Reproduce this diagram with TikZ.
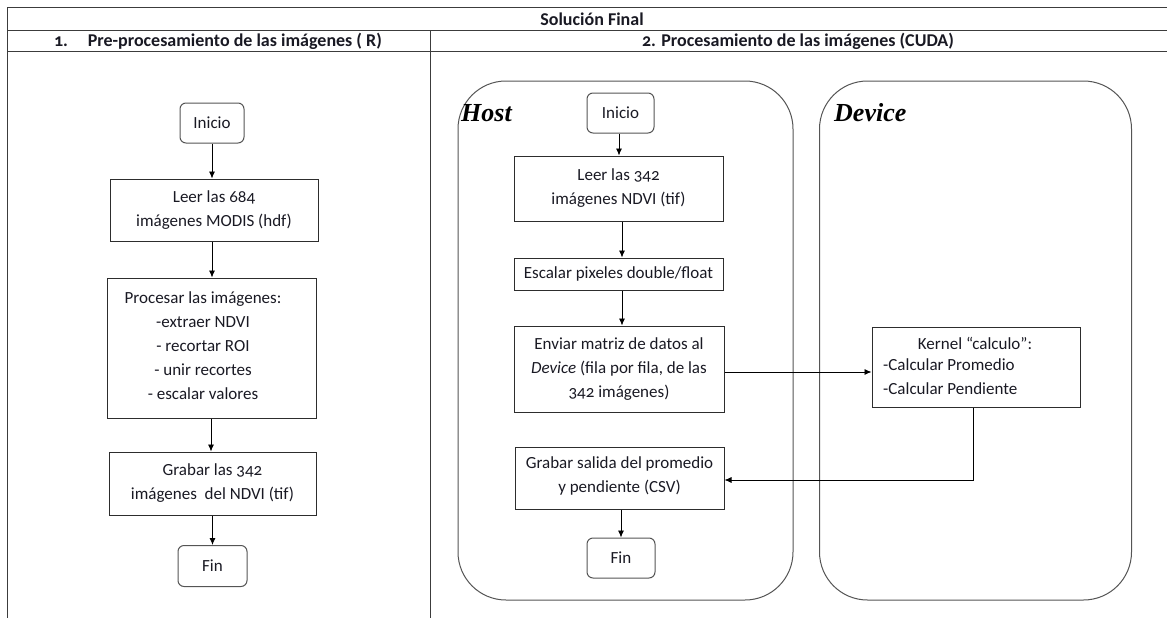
\documentclass[tikz,border=0pt]{standalone}
\usepackage{fontspec}
\setmainfont{Carlito}[Numbers=OldStyle]
\newfontfamily\lanefont{Liberation Serif}
\usetikzlibrary{arrows.meta}

\definecolor{rulec}{RGB}{60,60,60}
\definecolor{boxc}{RGB}{45,45,45}
\definecolor{lanec}{RGB}{85,85,85}
\definecolor{inkc}{RGB}{25,25,35}

\tikzset{
  tablerule/.style={draw=rulec, line width=1pt},
  procbox/.style={draw=boxc, line width=1pt, inner sep=0pt, align=center, text=inkc},
  termbox/.style={procbox, draw=lanec, rounded corners=6pt},
  lanebox/.style={draw=lanec, line width=1pt, rounded corners=48pt, inner sep=0pt},
  lanetitle/.style={font=\lanefont\bfseries\itshape\fontsize{26}{28}\selectfont, anchor=west, inner sep=0pt},
  headtext/.style={font=\bfseries\fontsize{18}{20}\selectfont, text=inkc, inner sep=0pt},
  plaintext/.style={align=center, text=inkc, inner sep=0pt},
  flow/.style={draw=black, line width=0.8pt, -{Latex[length=7pt,width=6pt]}}
}

\begin{document}
\begin{tikzpicture}[x=1pt, y=-1pt, font=\fontsize{17}{24}\selectfont]
\useasboundingbox (0,0) rectangle (1167,618);

% table frame
\draw[tablerule] (7,8) -- (1167,8);
\draw[tablerule] (7,31) -- (1167,31);
\draw[tablerule] (7,52) -- (1167,52);
\draw[tablerule] (7,8) -- (7,618);
\draw[tablerule] (430,31) -- (430,618);

\node[headtext] (title) at (592,19.5) {Solución Final};
\node[headtext] (head1) at (218,41.5) {1.\hspace{1.1em}Pre-procesamiento de las imágenes ( R)};
\node[headtext] (head2) at (798,41.5) {2. Procesamiento de las imágenes (CUDA)};

% left column: pre-processing in R
\node[termbox, minimum width=64, minimum height=40] (in1) at (212,123) {Inicio};
\node[procbox, minimum width=208, minimum height=62] (le1) at (214,210) {Leer las 684\\imágenes MODIS (hdf)};
\node[procbox, minimum width=209, minimum height=140] (pr1) at (211.5,348) {};
\node[plaintext] (pr1t) at (203,346) {Procesar las imágenes:\\-extraer NDVI\\- recortar ROI\\- unir recortes\\- escalar valores};
\node[procbox, minimum width=207, minimum height=63] (gr1) at (212.5,483.5) {Grabar las 342\\imágenes\ \ del NDVI (tif)};
\node[termbox, minimum width=69, minimum height=41] (fin1) at (212.5,566) {Fin};

\draw[flow] (in1) -- (le1.north -| in1.south);
\draw[flow] (le1.south -| in1.south) -- (pr1.north -| in1.south);
\draw[flow] (pr1.south -| 211,0) -- (gr1.north -| 211,0);
\draw[flow] (gr1.south -| fin1.north) -- (fin1);

% right column: host and device lanes
\node[lanebox, minimum width=335, minimum height=519] (host) at (625.5,340.5) {};
\node[lanebox, minimum width=312, minimum height=519] (device) at (975.5,340.5) {};
\node[lanetitle] (hostt) at (461,113) {Host};
\node[lanetitle] (devicet) at (834,113) {Device};

\node[termbox, minimum width=67, minimum height=40] (in2) at (620.5,113) {Inicio};
\node[procbox, minimum width=209, minimum height=65] (le2) at (618.5,188.5) {Leer las 342\\imágenes NDVI (tif)};
\node[procbox, minimum width=209, minimum height=32] (es2) at (618.5,274) {Escalar pixeles double/float};
\node[procbox, minimum width=210, minimum height=86] (en2) at (619,369) {Enviar matriz de datos al\\\textit{Device} (fila por fila, de las\\342 imágenes)};
\node[procbox, minimum width=209, minimum height=62] (gr2) at (619.5,478.5) {};
\node[plaintext] (gr2t) at (619.5,475.5) {Grabar salida del promedio\\y pendiente (CSV)};
\node[termbox, minimum width=68, minimum height=40] (fin2) at (621,558) {Fin};

\node[procbox, minimum width=208, minimum height=80] (ke) at (976,367) {};
\node[plaintext] (ket) at (975,343) {Kernel “calculo”:};
\node[plaintext, anchor=west, align=left] (kel) at (883,376.5) {-Calcular Promedio\\-Calcular Pendiente};

\draw[flow] (in2.south -| 619,0) -- (le2.north -| 619,0);
\draw[flow] (le2.south -| 622,0) -- (es2.north -| 622,0);
\draw[flow] (es2.south -| 622,0) -- (en2.north -| 622,0);
\draw[flow] (en2.east |- 0,372) -- (ke.west |- 0,372);
\draw[flow] (ke.south -| 973,0) |- (gr2.east |- 0,480);
\draw[flow] (gr2.south -| fin2.north) -- (fin2);
\end{tikzpicture}
\end{document}
